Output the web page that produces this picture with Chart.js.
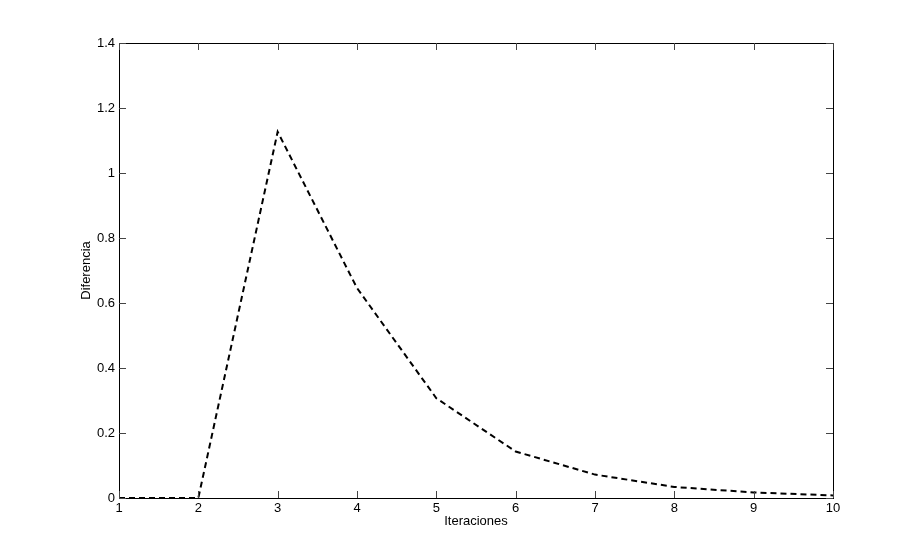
<!DOCTYPE html>
<html>
<head>
<meta charset="utf-8">
<script src="https://cdn.jsdelivr.net/npm/chart.js@4.4.1/dist/chart.umd.min.js"></script>
<style>
  html, body { margin: 0; padding: 0; background: #fff; }
  #chart { display: block; }
</style>
</head>
<body>
<canvas id="chart" width="920" height="560"></canvas>
<script>
const iteraciones = [1, 2, 3, 4, 5, 6, 7, 8, 9, 10];
const diferencia = [0, 0, 1.127, 0.646, 0.307, 0.143, 0.072, 0.034, 0.017, 0.008];
const xTicks = [1, 2, 3, 4, 5, 6, 7, 8, 9, 10];
const yTicks = [0, 0.2, 0.4, 0.6, 0.8, 1, 1.2, 1.4];

// MATLAB-style box with inward ticks on all four sides
const boxPlugin = {
    id: 'box',
    afterDraw(chart) {
        const { ctx, chartArea: a, scales } = chart;
        ctx.save();
        ctx.strokeStyle = '#000';
        ctx.lineWidth = 1;
        ctx.strokeRect(Math.round(a.left) + 0.5, Math.round(a.top) + 0.5,
            Math.round(a.right - a.left), Math.round(a.bottom - a.top));
        ctx.strokeStyle = '#444';
        ctx.beginPath();
        const len = 7;
        xTicks.forEach(v => {
            const px = Math.round(scales.x.getPixelForValue(v)) + 0.5;
            ctx.moveTo(px, a.bottom); ctx.lineTo(px, a.bottom - len);
            ctx.moveTo(px, a.top); ctx.lineTo(px, a.top + len);
        });
        yTicks.forEach(v => {
            const py = Math.round(scales.y.getPixelForValue(v)) + 0.5;
            ctx.moveTo(a.left, py); ctx.lineTo(a.left + len, py);
            ctx.moveTo(a.right, py); ctx.lineTo(a.right - len, py);
        });
        ctx.stroke();
        ctx.restore();
    }
};

const font = { family: 'Liberation Sans, Arial, sans-serif', size: 13 };

new Chart(document.getElementById('chart').getContext('2d'), {
    type: 'line',
    data: {
        datasets: [{
            data: iteraciones.map((x, i) => ({ x: x, y: diferencia[i] })),
            borderColor: '#000',
            borderWidth: 2,
            borderDash: [6, 4],
            pointRadius: 0,
            tension: 0,
            fill: false
        }]
    },
    options: {
        responsive: false,
        animation: false,
        layout: { padding: { left: 0, top: 43, right: 87, bottom: 0 } },
        plugins: {
            legend: { display: false },
            tooltip: { enabled: false }
        },
        scales: {
            x: {
                type: 'linear',
                min: 1,
                max: 10,
                afterFit: s => { s.height = 62; },
                afterBuildTicks: s => { s.ticks = xTicks.map(v => ({ value: v })); },
                grid: { display: false, drawTicks: false },
                border: { display: false },
                ticks: { color: '#000', font: font, padding: 3, callback: v => String(v) },
                title: {
                    display: true,
                    text: 'Iteraciones',
                    color: '#000',
                    font: font,
                    padding: { top: 0, bottom: 31 }
                }
            },
            y: {
                min: 0,
                max: 1.4,
                afterFit: s => { s.width = 119; },
                afterBuildTicks: s => { s.ticks = yTicks.map(v => ({ value: v })); },
                grid: { display: false, drawTicks: false },
                border: { display: false },
                ticks: { color: '#000', font: font, padding: 4, callback: v => String(+v.toFixed(1)) },
                title: {
                    display: true,
                    text: 'Diferencia',
                    color: '#000',
                    font: font,
                    padding: { top: 79, bottom: 0 }
                }
            }
        }
    },
    plugins: [boxPlugin]
});
</script>
</body>
</html>
